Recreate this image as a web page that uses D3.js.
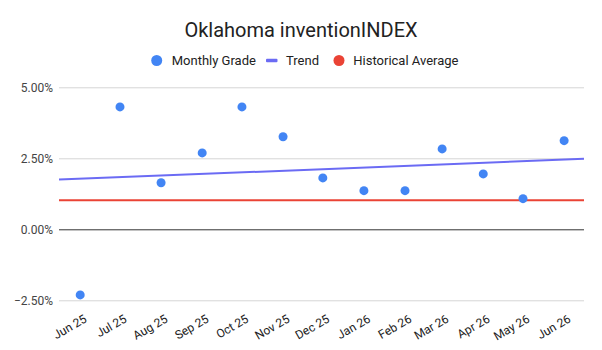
<!DOCTYPE html>
<html>
<head>
<meta charset="utf-8">
<script src="https://cdn.jsdelivr.net/npm/d3@7"></script>
<style>
  body { margin: 0; background: #fff; }
  text { font-family: Roboto, "Noto Sans", Arial, sans-serif; }
</style>
</head>
<body>
<svg width="602" height="350"></svg>
<script>
// data
const pointDates = ["2025-06-01", "2025-07-01", "2025-08-01", "2025-09-01", "2025-10-01", "2025-11-01",
  "2025-12-01", "2026-01-01", "2026-02-01", "2026-03-01", "2026-04-01", "2026-05-01", "2026-06-01"];
const monthlyGrade = [-2.31, 4.31, 1.64, 2.69, 4.31, 3.26, 1.81, 1.36, 1.36, 2.83, 1.95, 1.08, 3.12];
const tickDates = ["2025-06-01", "2025-07-01", "2025-08-01", "2025-09-01", "2025-10-01", "2025-11-01",
  "2025-12-01", "2026-01-01", "2026-02-01", "2026-03-01", "2026-04-01", "2026-05-01", "2026-06-01"];
const tickLabels = ["Jun 25", "Jul 25", "Aug 25", "Sep 25", "Oct 25", "Nov 25", "Dec 25",
  "Jan 26", "Feb 26", "Mar 26", "Apr 26", "May 26", "Jun 26"];
const yTicks = [-2.5, 0, 2.5, 5];
const historicalAverage = 1.02;
const trendEnds = [1.75, 2.48]; // at the left and right edge of the plot
const xDomain = ["2025-05-16", "2026-06-16"];

const svg = d3.select("svg");
const parse = d3.utcParse("%Y-%m-%d");

const plotLeft = 59, plotRight = 584, plotTop = 87.3, plotBottom = 300.3;

const xScale = d3.scaleUtc().domain(xDomain.map(parse)).range([plotLeft, plotRight]);
const yScale = d3.scaleLinear().domain([-2.5, 5]).range([plotBottom, plotTop]);

// title
svg.append("text")
  .attr("x", 301).attr("y", 37)
  .attr("text-anchor", "middle")
  .attr("font-size", 20)
  .attr("fill", "#222")
  .text("Oklahoma inventionINDEX");

// legend
const legend = svg.append("g").attr("font-size", 13).attr("fill", "#222");
legend.append("circle").attr("cx", 156.7).attr("cy", 60.5).attr("r", 5.5).attr("fill", "#4285f4");
legend.append("text").attr("x", 171.7).attr("y", 65).text("Monthly Grade");
legend.append("rect").attr("x", 266).attr("y", 58.8).attr("width", 11.5).attr("height", 3.5)
  .attr("rx", 1).attr("fill", "#6b6bf4");
legend.append("text").attr("x", 286).attr("y", 65).text("Trend");
legend.append("circle").attr("cx", 339).attr("cy", 60.5).attr("r", 5.5).attr("fill", "#ea4335");
legend.append("text").attr("x", 353.3).attr("y", 65).text("Historical Average");

// y grid + labels
const yAxis = d3.axisLeft(yScale)
  .tickValues(yTicks)
  .tickSize(-(plotRight - plotLeft))
  .tickFormat(d => d3.format(".2f")(d) + "%");

const gy = svg.append("g").attr("transform", `translate(${plotLeft},0)`).call(yAxis);
gy.select(".domain").remove();
gy.selectAll(".tick line")
  .attr("stroke", d => d === 0 ? "#333" : "#d5d5d5")
  .attr("stroke-width", 1);
gy.selectAll(".tick text")
  .attr("x", -6)
  .attr("font-size", 12)
  .attr("fill", "#444")
  .style("font-family", "Roboto, Arial, sans-serif");

// x labels
const xAxis = d3.axisBottom(xScale)
  .tickValues(tickDates.map(parse))
  .tickSize(0)
  .tickFormat((d, i) => tickLabels[i]);

const gx = svg.append("g").attr("transform", `translate(0,${plotBottom})`).call(xAxis);
gx.select(".domain").remove();
gx.selectAll(".tick text")
  .attr("font-size", 12)
  .attr("fill", "#222")
  .style("font-family", "Roboto, Arial, sans-serif")
  .attr("text-anchor", "end")
  .attr("dy", null)
  .attr("y", 0)
  .attr("transform", "translate(7,21) rotate(-30)");

// historical average
svg.append("line")
  .attr("x1", plotLeft).attr("x2", plotRight)
  .attr("y1", yScale(historicalAverage)).attr("y2", yScale(historicalAverage))
  .attr("stroke", "#ea4335").attr("stroke-width", 2);

// trend
svg.append("line")
  .attr("x1", plotLeft).attr("x2", plotRight)
  .attr("y1", yScale(trendEnds[0])).attr("y2", yScale(trendEnds[1]))
  .attr("stroke", "#6b6bf4").attr("stroke-width", 2);

// points
svg.selectAll("circle.pt")
  .data(monthlyGrade)
  .enter()
  .append("circle")
  .attr("class", "pt")
  .attr("cx", (d, i) => xScale(parse(pointDates[i])))
  .attr("cy", d => yScale(d))
  .attr("r", 4.5)
  .attr("fill", "#4285f4");
</script>
</body>
</html>
